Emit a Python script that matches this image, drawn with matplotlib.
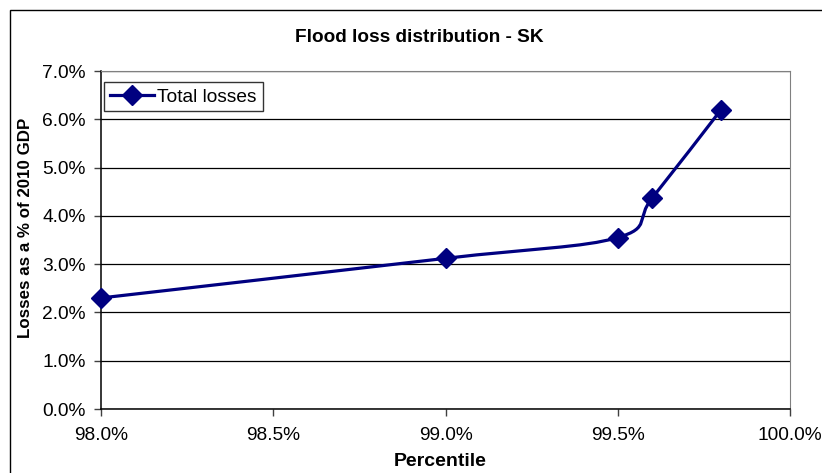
import numpy as np
import matplotlib
matplotlib.use("Agg")
import matplotlib.pyplot as plt
from matplotlib.path import Path
from matplotlib.patches import PathPatch, Rectangle
from matplotlib.lines import Line2D
from matplotlib.ticker import FuncFormatter

plt.rcParams['font.family'] = ['Liberation Sans', 'DejaVu Sans']

# data (percent)
percentile = [98.0, 99.0, 99.5, 99.6, 99.8]
losses = [2.30, 3.12, 3.55, 4.37, 6.20]

x_ticks = [98.0, 98.5, 99.0, 99.5, 100.0]
y_ticks = [0, 1, 2, 3, 4, 5, 6, 7]

navy = '#000080'


def smooth_path(xs, ys):
	# excel style smoothed line: cubic bezier, control points at 1/6 of neighbours
	pts = np.column_stack([xs, ys])
	n = len(pts)
	verts = [pts[0]]
	codes = [Path.MOVETO]
	for i in range(n - 1):
		p0 = pts[i - 1] if i > 0 else pts[i]
		p1 = pts[i]
		p2 = pts[i + 1]
		p3 = pts[i + 2] if i + 2 < n else pts[i + 1]
		c1 = p1 + (p2 - p0) / 6.0
		c2 = p2 - (p3 - p1) / 6.0
		verts += [c1, c2, p2]
		codes += [Path.CURVE4] * 3
	return Path(verts, codes)


fig = plt.figure(figsize=(8.22, 4.73), dpi=100)

# outer chart frame
fig.add_artist(Rectangle((10/822, -0.1), 1.0, 1 - 10/473 + 0.1, transform=fig.transFigure,
	fill=False, edgecolor='black', linewidth=1.0))

ax = fig.add_axes([101/822, 1 - 409/473, 689/822, 338/473])
ax.set_xlim(98.0, 100.0)
ax.set_ylim(0, 7)

ax.set_yticks(y_ticks)
ax.set_xticks(x_ticks)
ax.yaxis.set_major_formatter(FuncFormatter(lambda v, p: '%.1f%%' % v))
ax.xaxis.set_major_formatter(FuncFormatter(lambda v, p: '%.1f%%' % v))
ax.tick_params(axis='both', direction='out', length=5, width=1, color='#404040', labelsize=13.8)
ax.tick_params(axis='y', pad=6)
ax.tick_params(axis='x', pad=8)

ax.grid(axis='y', color='black', linewidth=0.9)
ax.set_axisbelow(True)
for s in ['left', 'bottom']:
	ax.spines[s].set_color('black')
	ax.spines[s].set_linewidth(1.1)
ax.spines['right'].set_color('#808080')
ax.spines['top'].set_color('#808080')

patch = PathPatch(smooth_path(percentile, losses), facecolor='none', edgecolor=navy,
	linewidth=2.3, capstyle='round', joinstyle='round', clip_on=False)
ax.add_patch(patch)
ax.plot(percentile, losses, linestyle='none', marker='D', markersize=10, color=navy, clip_on=False, zorder=5)

handle = Line2D([], [], color=navy, linewidth=2.3, marker='D', markersize=10)
leg = ax.legend([handle], ['Total losses'], loc='upper left', bbox_to_anchor=(0.004, 0.966),
	fontsize=13.8, frameon=True, fancybox=False, handlelength=2.3, handletextpad=0.2,
	borderpad=0.3, borderaxespad=0)
leg.get_frame().set_edgecolor('black')
leg.get_frame().set_linewidth(1.0)

fig.text(419/822, 1 - 37/473, 'Flood loss distribution - SK', ha='center', va='center',
	fontsize=13.7, fontweight='bold')
fig.text(440/822, 1 - 461/473, 'Percentile', ha='center', va='center',
	fontsize=14, fontweight='bold')
fig.text(26/822, 1 - 228/473, 'Losses as a % of 2010 GDP', ha='center', va='center',
	rotation=90, fontsize=12.2, fontweight='bold')

fig.savefig('out.png', dpi=100)
